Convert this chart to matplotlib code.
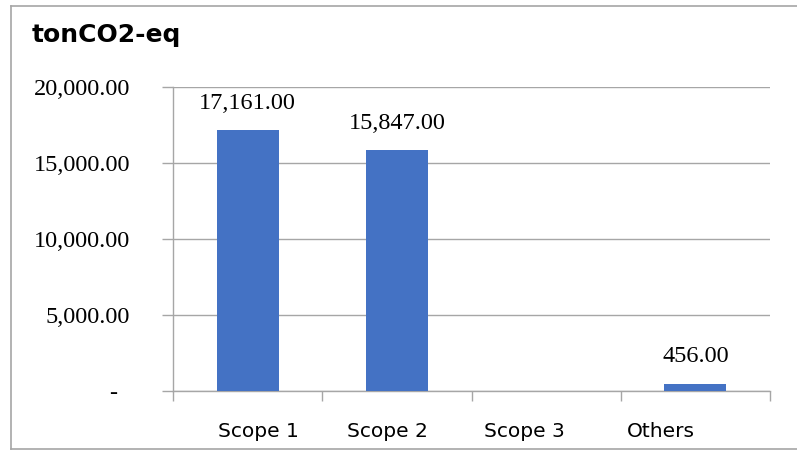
import matplotlib
matplotlib.use('Agg')
import matplotlib.pyplot as plt
from matplotlib.lines import Line2D
from matplotlib.ticker import FuncFormatter

categories = ['Scope 1', 'Scope 2', 'Scope 3', 'Others']
values = [17161.00, 15847.00, 0.0, 456.00]
yticks = [0, 5000, 10000, 15000, 20000]

bar_color = '#4472C4'
line_color = '#a6a6a6'
W, H = 797, 450

# Excel places the category labels slightly off the category centres
label_shift = [7.5, -6.5, -16, -25]   # points

fig = plt.figure(figsize=(W / 100, H / 100), dpi=100)
ax = fig.add_axes([173 / W, 1 - 391 / H, (770 - 173) / W, (391 - 87) / H])

x = list(range(len(categories)))
ax.bar(x, values, width=0.415, color=bar_color, zorder=3)

# data labels (skip empty category)
for xi, v in zip(x, values):
    if v == 0:
        continue
    ax.annotate(f'{v:,.2f}', (xi, v), xytext=(0, 19.5), textcoords='offset points',
                ha='center', va='center', fontsize=17.5, family='Liberation Serif')

ax.set_xlim(-0.5, len(categories) - 0.5)
ax.set_ylim(0, 20000)

# y axis
def yfmt(v, pos):
    if v == 0:
        return '-  '
    return f'{v:,.2f}'

ax.set_yticks(yticks)
ax.yaxis.set_major_formatter(FuncFormatter(yfmt))
ax.tick_params(axis='y', length=8, width=1, color=line_color, pad=23, labelsize=17.5)
for lab in ax.get_yticklabels():
    lab.set_family('Liberation Serif')
ax.yaxis.grid(True, color=line_color, linewidth=1, zorder=0)

# x axis: ticks between categories, labels near centres
ax.set_xticks([i - 0.5 for i in range(len(categories) + 1)])
ax.set_xticklabels([])
ax.tick_params(axis='x', which='major', length=7, width=1, color=line_color)
for xi, name, dx in zip(x, categories, label_shift):
    ax.annotate(name, (xi, 0), xycoords=('data', 'axes fraction'),
                xytext=(dx, -29.5), textcoords='offset points',
                ha='center', va='center', fontsize=14.5, family='DejaVu Sans')

for side in ['top', 'right']:
    ax.spines[side].set_visible(False)
for side in ['left', 'bottom']:
    ax.spines[side].set_color(line_color)
    ax.spines[side].set_linewidth(1)

fig.text(32 / W, 1 - 35 / H, 'tonCO2-eq', fontsize=18, fontweight='bold',
         family='DejaVu Sans', ha='left', va='center')

# chart border
bx0, by0, by1 = 11 / W, 1 - 449 / H, 1 - 6 / H
for xs, ys in [([bx0, bx0], [by0, by1]), ([bx0, 1], [by1, by1]), ([bx0, 1], [by0, by0])]:
    fig.add_artist(Line2D(xs, ys, transform=fig.transFigure, color=line_color, linewidth=1.2))

fig.savefig('out.png', dpi=100)
